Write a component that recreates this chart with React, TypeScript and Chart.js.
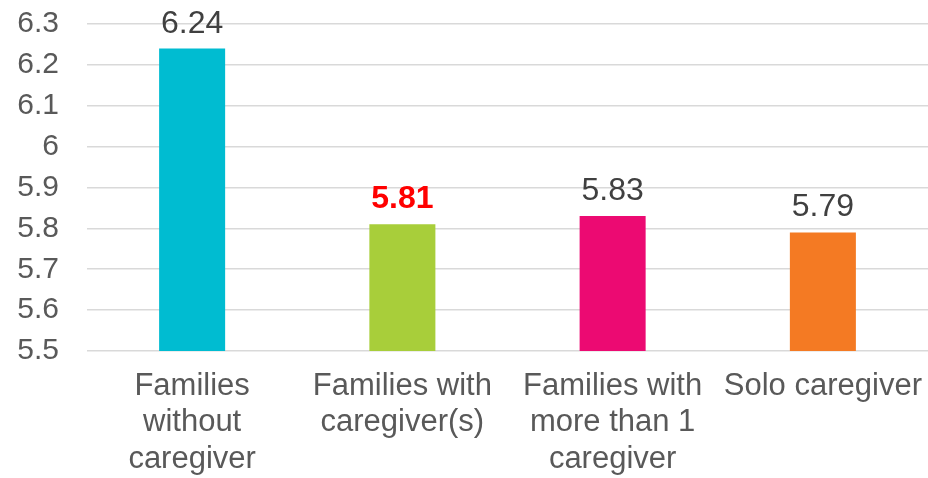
import React, { useEffect, useRef } from "react";
import { Chart, registerables } from "chart.js";

Chart.register(...registerables);

const categories: string[][] = [
  ["Families", "without", "caregiver"],
  ["Families with", "caregiver(s)"],
  ["Families with", "more than 1", "caregiver"],
  ["Solo caregiver"],
];
const values: number[] = [6.24, 5.81, 5.83, 5.79];
const valueLabels: string[] = ["6.24", "5.81", "5.83", "5.79"];
const barColors: string[] = ["#00BCD1", "#A8CE3A", "#EC0A72", "#F47A23"];
const labelColors: string[] = ["#404040", "#FF0000", "#404040", "#404040"];
const labelBold: boolean[] = [false, true, false, false];
const yMin = 5.5;
const yMax = 6.3;
const yStep = 0.1;

const FONT = "'Liberation Sans', Arial, sans-serif";

const valueLabelPlugin = {
  id: "valueLabels",
  afterDatasetsDraw(chart: any) {
    const ctx = chart.ctx;
    const meta = chart.getDatasetMeta(0);
    ctx.save();
    ctx.textAlign = "center";
    ctx.textBaseline = "alphabetic";
    meta.data.forEach((bar: any, i: number) => {
      ctx.font = `${labelBold[i] ? "bold " : ""}32px ${FONT}`;
      ctx.fillStyle = labelColors[i];
      ctx.fillText(valueLabels[i], bar.x, bar.y - 16);
    });
    ctx.restore();
  },
};

export default function App() {
  const ref = useRef<HTMLCanvasElement | null>(null);
  useEffect(() => {
    if (!ref.current) return;
    const chart = new Chart(ref.current, {
      type: "bar",
      data: {
        labels: categories,
        datasets: [
          {
            data: values,
            backgroundColor: barColors,
            barPercentage: 0.314,
            categoryPercentage: 1,
          },
        ],
      },
      options: {
        animation: false,
        responsive: false,
        maintainAspectRatio: false,
        layout: { padding: { top: 24, right: 0, left: 0, bottom: 0 } },
        plugins: { legend: { display: false }, tooltip: { enabled: false } },
        scales: {
          x: {
            grid: { display: false, drawTicks: false },
            border: { display: false },
            ticks: {
              color: "#595959",
              font: { family: FONT, size: 31, lineHeight: 1.18 },
              padding: 17,
              maxRotation: 0,
              autoSkip: false,
            },
            afterFit(scale: any) {
              scale.height = 127;
              scale.paddingLeft = 0;
              scale.paddingRight = 0;
            },
          },
          y: {
            min: yMin,
            max: yMax,
            grid: { color: "#D9D9D9", lineWidth: 1.5, drawTicks: false },
            border: { display: false },
            ticks: {
              stepSize: yStep,
              autoSkip: false,
              color: "#595959",
              font: { family: FONT, size: 30 },
              padding: 28,
              callback: (v: any) => String(Number(Number(v).toFixed(1))),
            },
            afterFit(scale: any) {
              scale.width = 87;
              scale.paddingTop = 0;
              scale.paddingBottom = 0;
            },
          },
        },
      },
      plugins: [valueLabelPlugin],
    });
    return () => chart.destroy();
  }, []);
  return (
    <div style={{ position: "fixed", left: 0, top: 0, width: 928, height: 478, background: "#fff" }}>
      <canvas ref={ref} width={928} height={478} />
    </div>
  );
}
